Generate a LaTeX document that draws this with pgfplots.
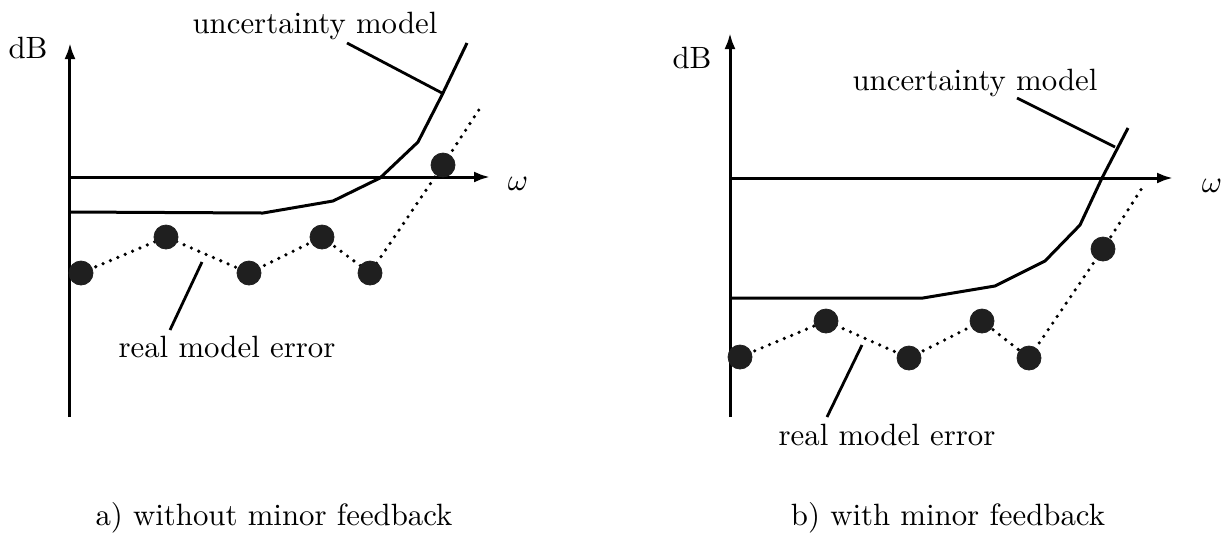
\documentclass[border=0pt]{standalone}
\usepackage{pgfplots}
\pgfplotsset{compat=1.18}
\usetikzlibrary{arrows.meta}
\begin{document}
\begin{tikzpicture}[font=\fontsize{10}{12}\selectfont]
\useasboundingbox (0,0) rectangle (615pt,-268.5pt);
\tikzset{txt/.style={scale=1.54, inner sep=0pt, anchor=base}}
\pgfplotsset{
  sk/.style={
    x=0.5pt, y=0.5pt,
    axis lines=middle,
    xtick=\empty, ytick=\empty,
    clip=false,
    enlargelimits=false,
    axis line style={line width=1.5pt},
    every inner x axis line/.append style={line width=1.5pt, -{Latex[length=8pt,width=5.5pt]}},
    every inner y axis line/.append style={line width=1.5pt, -{Latex[length=8pt,width=5.5pt]}},
    anchor=origin,
  },
  unc/.style={black, line width=1.5pt, no marks},
  err/.style={black, line width=1.8pt, line cap=round, dash pattern=on 0pt off 4pt, no marks},
  dots/.style={only marks, mark=*, mark size=6pt, mark options={fill=black!88, draw=black!88}},
  lead/.style={black, line width=1.4pt, no marks},
}
% ---------- a) without minor feedback ----------
\begin{axis}[sk, at={(35pt,-88.5pt)}, xmin=0, xmax=420, ymin=-240, ymax=134]
\addplot[unc] coordinates {(0,-35) (193,-36) (263,-24) (310,-1) (348,35) (372,82) (397,134)};
\addplot[err] coordinates {(11,-96) (96,-60) (179,-96) (252,-60) (300,-96) (373,12) (412,72)};
\addplot[dots] coordinates {(11,-96) (96,-60) (179,-96) (252,-60) (300,-96) (373,12)};
\addplot[lead] coordinates {(277,134) (372,84)};
\addplot[lead] coordinates {(132,-85) (100,-153)};
\node[txt] at (axis cs:245,144) {uncertainty model};
\node[txt] at (axis cs:157,-180) {real model error};
\node[txt] at (axis cs:-42,119) {dB};
\node[txt] at (axis cs:448,-13) {$\omega$};
\node[txt] at (axis cs:204,-348) {a) without minor feedback};
\end{axis}
% ---------- b) with minor feedback ----------
\begin{axis}[sk, at={(365pt,-89pt)}, xmin=0, xmax=443, ymin=-239, ymax=145]
\addplot[unc] coordinates {(0,-120) (193,-120) (265,-108) (315,-83) (350,-47) (372,0) (398,50)};
\addplot[err] coordinates {(10,-179) (96,-143) (179,-180) (252,-143) (299,-180) (373,-71) (412,-10)};
\addplot[dots] coordinates {(10,-179) (96,-143) (179,-180) (252,-143) (299,-180) (373,-71)};
\addplot[lead] coordinates {(287,80) (385,31)};
\addplot[lead] coordinates {(132,-167) (97,-239)};
\node[txt] at (axis cs:245,88) {uncertainty model};
\node[txt] at (axis cs:157,-267) {real model error};
\node[txt] at (axis cs:-38,110) {dB};
\node[txt] at (axis cs:482,-14) {$\omega$};
\node[txt] at (axis cs:218,-347) {b) with minor feedback};
\end{axis}
\end{tikzpicture}
\end{document}
